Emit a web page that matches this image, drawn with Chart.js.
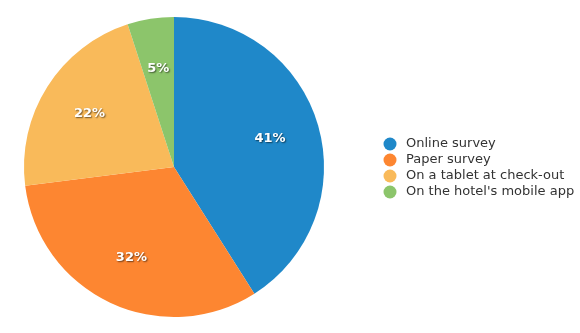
<!DOCTYPE html>
<html><head><meta charset="utf-8">
<script src="https://cdn.jsdelivr.net/npm/chart.js@4/dist/chart.umd.min.js"></script>
<style>html,body{margin:0;padding:0;background:#fff;}#wrap{width:580px;height:333px;}</style>
</head><body><div id="wrap"><canvas id="c" width="580" height="333"></canvas></div>
<script>
const categories = ["Online survey", "Paper survey", "On a tablet at check-out", "On the hotel's mobile app"];
const shares = [41, 32, 22, 5];
const colors = ["#1f88c9", "#fd8631", "#f9ba5a", "#8cc56b"];

const labelPlugin = {
  id: 'sliceLabels',
  afterDatasetsDraw(chart) {
    const ctx = chart.ctx;
    const meta = chart.getDatasetMeta(0);
    const ds = chart.data.datasets[0];
    ctx.save();
    ctx.font = 'bold 13px "DejaVu Sans"';
    ctx.textAlign = 'center';
    ctx.textBaseline = 'middle';
    meta.data.forEach((arc, i) => {
      const p = arc.getProps(['x','y','startAngle','endAngle','outerRadius'], true);
      const mid = (p.startAngle + p.endAngle) / 2;
      const r = p.outerRadius * 0.667;
      const x = p.x + Math.cos(mid) * r;
      const y = p.y + Math.sin(mid) * r;
      ctx.shadowColor = 'rgba(0,0,0,0.55)';
      ctx.shadowOffsetX = 1;
      ctx.shadowOffsetY = 1;
      ctx.shadowBlur = 1.5;
      ctx.fillStyle = '#fff';
      ctx.fillText(ds.data[i] + '%', x, y);
    });
    ctx.restore();
  }
};

const legendPlugin = {
  id: 'sideLegend',
  afterDraw(chart) {
    const ctx = chart.ctx;
    const labels = chart.data.labels;
    const ds = chart.data.datasets[0];
    ctx.save();
    ctx.font = '13px "DejaVu Sans"';
    ctx.textBaseline = 'middle';
    ctx.textAlign = 'left';
    const x0 = 390, y0 = 144, step = 16;
    labels.forEach((lab, i) => {
      const y = y0 + i * step;
      ctx.beginPath();
      ctx.arc(x0, y, 6.5, 0, Math.PI * 2);
      ctx.fillStyle = ds.backgroundColor[i];
      ctx.fill();
      ctx.fillStyle = '#333';
      ctx.fillText(lab, 406, y);
    });
    ctx.restore();
  }
};

new Chart(document.getElementById('c'), {
  type: 'pie',
  data: {
    labels: categories,
    datasets: [{ data: shares, backgroundColor: colors, borderWidth: 0 }]
  },
  options: {
    responsive: false,
    animation: false,
    layout: { padding: { left: 24, right: 256, top: 17, bottom: 16 } },
    plugins: { legend: { display: false }, tooltip: { enabled: false } }
  },
  plugins: [labelPlugin, legendPlugin]
});
</script></body></html>
